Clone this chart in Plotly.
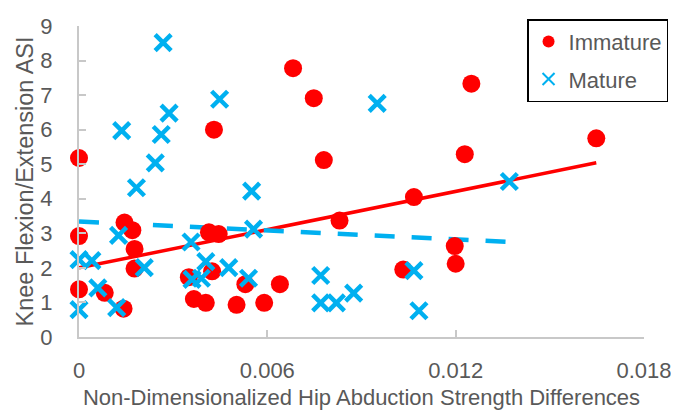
import numpy as np
import plotly.graph_objects as go

# Immature (red circles)
imm_x = [0, 0, 0, 0.00082, 0.00142, 0.00145, 0.0017, 0.00177, 0.00177, 0.0035,
         0.00366, 0.00404, 0.00424, 0.00414, 0.00445, 0.0043, 0.00502, 0.0053, 0.0059,
         0.0064, 0.00682, 0.00748, 0.0078, 0.0083, 0.01033, 0.01067, 0.01197, 0.012,
         0.01229, 0.0125, 0.01648]
imm_y = [5.18, 2.92, 1.38, 1.28, 0.82, 3.31, 3.09, 2.55, 1.98, 1.73,
         1.10, 0.99, 1.90, 3.03, 2.98, 6.0, 0.93, 1.53, 0.99,
         1.53, 7.78, 6.91, 5.12, 3.37, 1.95, 4.05, 2.63, 2.12,
         5.29, 7.33, 5.75]

# Mature (blue crosses)
mat_x = [0.00268, 0.00448, 0.00287, 0.00136, 0.00262, 0.00243, 0.00183, 0.0055, 0.00126, 0,
         0.00041, 0.0006, 0, 0.0012, 0.00208, 0.00357, 0.00404, 0.0036, 0.0039, 0.00477,
         0.0054, 0.00556, 0.0077, 0.0077, 0.0082, 0.00875, 0.01067, 0.01083, 0.0095, 0.01371]
mat_y = [8.52, 6.88, 6.48, 5.97, 5.86, 5.04, 4.32, 4.22, 2.94, 2.24,
         2.21, 1.42, 0.79, 0.85, 2.01, 2.75, 2.18, 1.67, 1.70, 2.01,
         1.70, 3.12, 1.78, 0.99, 0.99, 1.27, 1.92, 0.76, 6.76, 4.50]

# Linear trendline coefficients (intercept, slope) as shown on the chart
imm_trend = [2.0, 184.5]
mat_trend = [3.34, -43.0]

x_ticks = [0, 0.006, 0.012, 0.018]
x_tick_labels = ["0", "0.006", "0.012", "0.018"]
y_ticks = list(range(0, 10))

RED = "#FF0000"
BLUE = "#00B0F0"
TXT = "#595959"
AX = "#C8C8C8"
FONT = "Liberation Sans"


def trend(xs, coef):
    xx = np.array([min(xs), max(xs)])
    return xx, coef[0] + coef[1] * xx


fig = go.Figure()

tx, ty = trend(imm_x, imm_trend)
fig.add_trace(go.Scatter(x=tx, y=ty, mode="lines", line=dict(color=RED, width=3.5),
                         showlegend=False, hoverinfo="skip", cliponaxis=False))
tx2, ty2 = trend(mat_x, mat_trend)
fig.add_trace(go.Scatter(x=tx2, y=ty2, mode="lines",
                         line=dict(color=BLUE, width=4.5, dash="20px,17px"),
                         showlegend=False, hoverinfo="skip", cliponaxis=False))

fig.add_trace(go.Scatter(x=imm_x, y=imm_y, mode="markers", name="Immature",
                         legendgroup="imm",
                         marker=dict(symbol="circle", size=18, color=RED),
                         cliponaxis=False))
fig.add_trace(go.Scatter(x=mat_x, y=mat_y, mode="markers", name="Mature",
                         legendgroup="mat",
                         marker=dict(symbol="x-thin", size=16, color=BLUE,
                                     line=dict(color=BLUE, width=4.5)),
                         cliponaxis=False))

# The page body adds an 8px margin, so the figure is 8px smaller than the window
fig.update_layout(
    width=671, height=406, autosize=False,
    margin=dict(l=71, r=30, t=11, b=77),
    paper_bgcolor="white", plot_bgcolor="white",
    font=dict(family=FONT, size=22, color=TXT),
    legend=dict(x=0.793, y=1.022, xanchor="left", yanchor="top",
                bordercolor="black", borderwidth=1.5, bgcolor="white",
                font=dict(family=FONT, size=22, color=TXT),
                itemsizing="constant", tracegroupgap=6),
    showlegend=True,
)
fig.update_xaxes(range=[0, 0.018], tickvals=x_ticks, ticktext=x_tick_labels,
                 showline=True, linecolor=AX, linewidth=2, mirror=False,
                 ticks="inside", ticklen=7, tickcolor=AX, tickwidth=2,
                 showgrid=False, zeroline=False, ticklabelstandoff=13,
                 automargin=False,
                 title=dict(text="Non-Dimensionalized Hip Abduction Strength Differences",
                            font=dict(family=FONT, size=22, color=TXT), standoff=7))
fig.update_yaxes(range=[0, 9], tickvals=y_ticks,
                 showline=True, linecolor=AX, linewidth=2,
                 ticks="inside", ticklen=7, tickcolor=AX, tickwidth=2,
                 showgrid=False, zeroline=False, ticklabelstandoff=20,
                 automargin=False,
                 title=dict(text="Knee Flexion/Extension ASI",
                            font=dict(family=FONT, size=23.5, color=TXT), standoff=0))

fig.write_html("out.html")
